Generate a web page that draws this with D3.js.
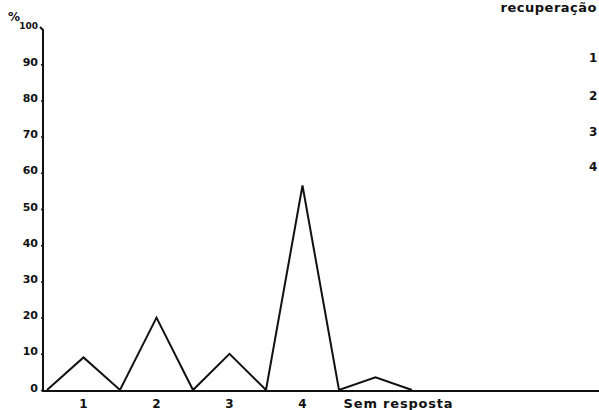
<!DOCTYPE html>
<html><head><meta charset="utf-8">
<script src="https://cdn.jsdelivr.net/npm/d3@7"></script>
<style>
html,body{margin:0;padding:0;background:#fff;}
svg{display:block;}
text{font-family:"DejaVu Sans",sans-serif;font-weight:bold;fill:#111;}
</style></head>
<body>
<svg id="c" width="599" height="410"></svg>
<script>
const categories = ["1", "2", "3", "4", "Sem resposta"];
const values = [9, 20, 10, 56.5, 3.5];
const yTicks = [0, 10, 20, 30, 40, 50, 60, 70, 80, 90, 100];
const legendTitle = "recuperação";
const legendItems = ["1", "2", "3", "4"];

const svg = d3.select("#c");
const W = 599, H = 410;
const x = d3.scaleLinear().domain([-0.5, categories.length - 0.5]).range([47, 412]);
const y = d3.scaleLinear().domain([0, 100]).range([390, 28]);
const axisX = 43;

// x axis baseline
svg.append("line").attr("x1", axisX).attr("x2", W).attr("y1", y(0) + 1).attr("y2", y(0) + 1)
  .attr("stroke", "#111").attr("stroke-width", 2);

// y axis
const yAxis = d3.axisLeft(y).tickValues(yTicks.filter(d => d < 100)).tickSize(2).tickPadding(3)
  .tickFormat(d => d);
const gy = svg.append("g").attr("transform", `translate(${axisX},0)`).call(yAxis);
gy.select(".domain").remove();
gy.selectAll(".tick line").attr("stroke", "#111").attr("stroke-width", 1.5);
gy.selectAll(".tick text").style("font-size", "11px").attr("dy", "0.1em");
svg.append("path")
  .attr("d", `M${axisX},${y(0) + 2}L${axisX},${y(100) + 2}L${axisX - 3},${y(100) - 1}`)
  .attr("fill", "none").attr("stroke", "#111").attr("stroke-width", 2);
svg.append("text").attr("x", axisX - 5).attr("y", y(100) + 1).attr("text-anchor", "end")
  .style("font-size", "9px").text(yTicks[yTicks.length - 1]);
svg.append("text").attr("x", 8).attr("y", 21).style("font-size", "12px").text("%");

// x category labels
categories.forEach((c, i) => {
  const last = i === categories.length - 1;
  svg.append("text").attr("x", last ? x(i) + 23 : x(i))
    .attr("y", 408).attr("text-anchor", "middle")
    .style("font-size", last ? "13px" : "12px")
    .style("letter-spacing", last ? "0.8px" : "0px").text(c);
});

// zig-zag line
const pts = [];
values.forEach((v, i) => { pts.push([i - 0.5, 0]); pts.push([i, v]); });
pts.push([categories.length - 0.5, 0]);
svg.append("path").datum(pts)
  .attr("d", d3.line().x(d => x(d[0])).y(d => y(d[1])))
  .attr("fill", "none").attr("stroke", "#111").attr("stroke-width", 2).attr("stroke-linejoin", "miter");

// legend at right edge
svg.append("text").attr("x", 597).attr("y", 12).attr("text-anchor", "end")
  .style("font-size", "13px").style("letter-spacing", "0.5px").text(legendTitle);
const ly = [62, 100, 136, 171];
legendItems.forEach((t, i) => {
  svg.append("text").attr("x", 589).attr("y", ly[i]).style("font-size", "12px").text(t);
});
</script>
</body></html>
